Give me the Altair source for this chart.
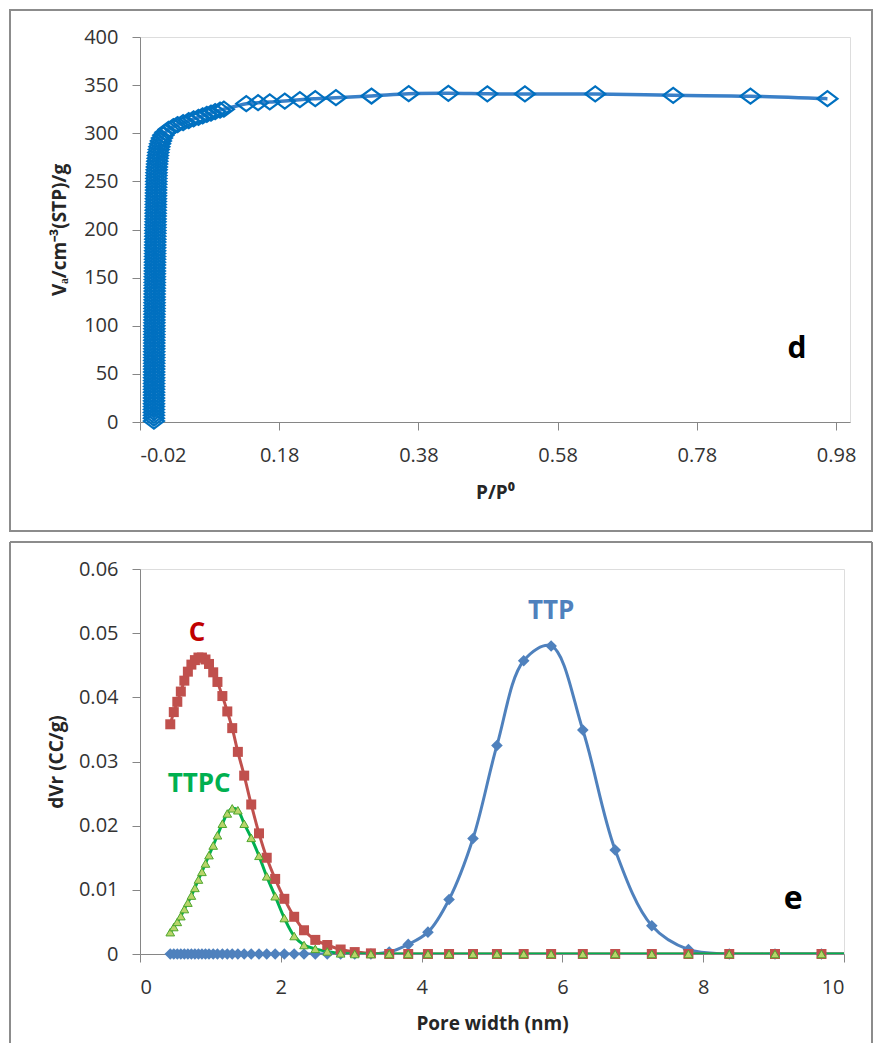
import altair as alt
import pandas as pd

# ---------------- panel d : N2 isotherm ----------------
iso_p = [
    0.00000, 0.00002, 0.00004, 0.00006, 0.00008, 0.00010, 0.00012, 0.00014, 0.00016, 0.00018,
    0.00020, 0.00022, 0.00024, 0.00026, 0.00028, 0.00030, 0.00032, 0.00034, 0.00036, 0.00038,
    0.00040, 0.00042, 0.00044, 0.00046, 0.00048, 0.00050, 0.00052, 0.00054, 0.00056, 0.00058,
    0.00060, 0.00063, 0.00066, 0.00069, 0.00072, 0.00075, 0.00078, 0.00081, 0.00084, 0.00087,
    0.00090, 0.00094, 0.00098, 0.00102, 0.00106, 0.00110, 0.00114, 0.00118, 0.00122, 0.00126,
    0.00130, 0.00135, 0.00140, 0.00145, 0.00150, 0.00155, 0.00160, 0.00165, 0.00170, 0.00175,
    0.00180, 0.00186, 0.00192, 0.00198, 0.00204, 0.00210, 0.00216, 0.00222, 0.00228, 0.00234,
    0.00240, 0.00247, 0.00254, 0.00261, 0.00268, 0.00275, 0.00282, 0.00289, 0.00296, 0.00303,
    0.00310, 0.00320, 0.00330, 0.00340, 0.00350, 0.00360, 0.00370,
    0.0039, 0.0042, 0.0045, 0.0049, 0.0053, 0.0058, 0.0063, 0.0070, 0.0078, 0.0088,
    0.0100, 0.0115, 0.0135, 0.0165, 0.0210, 0.0280, 0.0340, 0.0420, 0.0500, 0.0570,
    0.0640, 0.0700, 0.0760, 0.0820, 0.0880, 0.0950, 0.1005, 0.1327, 0.1496, 0.1664,
    0.1880, 0.2097, 0.2318, 0.2615, 0.3126, 0.3660, 0.4230, 0.4790, 0.5330, 0.6340,
    0.7460, 0.8570, 0.9676,
]
iso_v = [
    1, 4, 7, 10, 13, 16, 19, 22, 25, 28,
    31, 34, 37, 40, 43, 46, 49, 52, 55, 58,
    61, 64, 67, 70, 73, 76, 79, 82, 85, 88,
    91, 94, 97, 100, 103, 106, 109, 112, 115, 118,
    121, 124, 127, 130, 133, 136, 139, 142, 145, 148,
    151, 154, 157, 160, 163, 166, 169, 172, 175, 178,
    181, 184, 187, 190, 193, 196, 199, 202, 205, 208,
    211, 214, 217, 220, 223, 226, 229, 232, 235, 238,
    241, 244, 247, 250, 253, 256, 259,
    262, 265, 268, 271, 274, 277, 280, 283, 286, 289,
    292, 295, 298, 301, 304, 307, 309, 311, 313, 315,
    316.5, 318, 319.5, 321, 322.5, 324, 325, 330.7, 331.7, 332.5,
    333.5, 334.9, 335.9, 337, 338.7, 341.1, 341.5, 341, 340.8, 340.8,
    339.4, 338.5, 335.9,
]
p_ticks = [-0.02, 0.18, 0.38, 0.58, 0.78, 0.98]
v_ticks = [0, 50, 100, 150, 200, 250, 300, 350, 400]

# ---------------- panel e : pore size distribution ----------------
pore = [
    0.43, 0.48, 0.53, 0.58, 0.63, 0.68, 0.73, 0.78, 0.83, 0.88,
    0.93, 0.98, 1.04, 1.10, 1.17, 1.24, 1.31, 1.39, 1.48, 1.58,
    1.69, 1.80, 1.92, 2.05, 2.19, 2.33, 2.49, 2.66, 2.85, 3.05,
    3.28, 3.54, 3.81, 4.09, 4.39, 4.73, 5.07, 5.45, 5.84, 6.29,
    6.75, 7.27, 7.79, 8.37, 9.02, 9.68, 10.40,
]
c_vals = [
    0.0358, 0.0377, 0.0393, 0.0409, 0.0426, 0.0440, 0.0451, 0.0458, 0.0462, 0.0462,
    0.0459, 0.0452, 0.0439, 0.0424, 0.0402, 0.0378, 0.0352, 0.0315, 0.0278, 0.0233,
    0.0188, 0.0150, 0.0117, 0.0086, 0.0058, 0.0037, 0.0022, 0.0014, 0.0007, 0.0003,
    0.0001, 0, 0, 0, 0, 0, 0, 0, 0, 0,
    0, 0, 0, 0, 0, 0, 0,
]
ttpc_vals = [
    0.0034, 0.0042, 0.0050, 0.0059, 0.0070, 0.0080, 0.0091, 0.0103, 0.0116, 0.0128,
    0.0141, 0.0154, 0.0169, 0.0185, 0.0203, 0.0219, 0.0227, 0.0224, 0.0203, 0.0181,
    0.0153, 0.0121, 0.0090, 0.0056, 0.0028, 0.0014, 0.0008, 0.0004, 0.0001, 0,
    0, 0, 0, 0, 0, 0, 0, 0, 0, 0,
    0, 0, 0, 0, 0, 0, 0,
]
ttp_vals = [
    0, 0, 0, 0, 0, 0, 0, 0, 0, 0,
    0, 0, 0, 0, 0, 0, 0, 0, 0, 0,
    0, 0, 0, 0, 0, 0, 0, 0, 0, 0,
    0, 0.0003, 0.0015, 0.0034, 0.0085, 0.0180, 0.0325, 0.0457, 0.0480, 0.0349,
    0.0162, 0.0044, 0.0007, 0, 0, 0, 0,
]
w_ticks = [0, 2, 4, 6, 8, 10]
d_ticks = [0, 0.01, 0.02, 0.03, 0.04, 0.05, 0.06]

series_labels = ["C", "TTPC", "TTP"]
label_x = [0.81, 0.84, 5.84]
label_y = [0.0500, 0.0265, 0.0534]
label_colors = ["#C00000", "#00B050", "#4F81BD"]

FONT = "Open Sans"
LAB = dict(labelFont=FONT, labelFontSize=20, labelColor="#333333",
           titleFont=FONT, titleFontSize=19, titleFontWeight="bold", titleColor="#262626",
           grid=False, domainColor="#868686", tickColor="#868686", tickSize=8,
           titleBaseline="middle")
FRAME = "#8C8C8C"

# ---------- top chart ----------
W1, H1 = 710, 385
iso = pd.DataFrame({"p": iso_p, "v": iso_v})
xs1 = alt.Scale(domain=[-0.02, 1.0], nice=False, zero=False)
ys1 = alt.Scale(domain=[0, 400], nice=False)
xa1 = alt.Axis(values=p_ticks, labelExpr="replace(format(datum.value, '.2f'), '\u2212', '-')",
               title="P/P\u2070", labelPadding=15, titleY=70, **LAB)
ya1 = alt.Axis(values=v_ticks, title="V\u2090/cm\u207b\u00b3(STP)/g",
               labelPadding=14, titleX=-81, **LAB)

base1 = alt.Chart(iso).encode(x=alt.X("p:Q", scale=xs1, axis=xa1),
                              y=alt.Y("v:Q", scale=ys1, axis=ya1))
line1 = base1.mark_line(color="#3A80C8", strokeWidth=3.5, interpolate="catmull-rom")
pts1 = base1.mark_point(shape="M-1,0L0,-0.75L1,0L0,0.75Z", size=400, filled=False,
                        color="#0070C0", strokeWidth=2.2, opacity=1)
d_lab = alt.Chart(pd.DataFrame({"x": [0.924], "y": [76], "t": ["d"]})).mark_text(
    font=FONT, fontSize=30, fontWeight="bold", color="black"
).encode(x=alt.X("x:Q", scale=xs1, axis=xa1), y=alt.Y("y:Q", scale=ys1, axis=ya1), text="t:N")
frame1 = alt.Chart(alt.Data(values=[{}])).mark_rect(
    fill="transparent", stroke=FRAME, strokeWidth=2
).encode(x=alt.value(-130), x2=alt.value(732), y=alt.value(-27), y2=alt.value(494))

top = alt.layer(frame1, line1, pts1, d_lab).properties(width=W1, height=H1)

# ---------- bottom chart ----------
W2, H2 = 704, 385
psd = pd.DataFrame({"w": pore, "C": c_vals, "TTPC": ttpc_vals, "TTP": ttp_vals})
xs2 = alt.Scale(domain=[0, 10], nice=False)
ys2 = alt.Scale(domain=[0, 0.06], nice=False)
xa2 = alt.Axis(values=w_ticks, title="Pore width (nm)", labelPadding=15, titleY=69, **LAB)
ya2 = alt.Axis(values=d_ticks, format="~g", title="dVr (CC/g)", labelPadding=14,
               titleX=-84, **LAB)

def enc(xcol, ycol):
    return dict(x=alt.X(f"{xcol}:Q", scale=xs2, axis=xa2),
                y=alt.Y(f"{ycol}:Q", scale=ys2, axis=ya2))

b = alt.Chart(psd)
bp = b.transform_filter("datum.w <= 10")
l_ttp = b.mark_line(color="#4F81BD", strokeWidth=3, interpolate="catmull-rom", clip=True).encode(**enc("w", "TTP"))
l_c = b.mark_line(color="#C0504D", strokeWidth=3, interpolate="catmull-rom", clip=True).encode(**enc("w", "C"))
l_ttpc = b.mark_line(color="#00B050", strokeWidth=3, interpolate="catmull-rom", clip=True).encode(**enc("w", "TTPC"))
p_ttp = bp.mark_point(shape="diamond", size=135, filled=True, color="#4F81BD", opacity=1).encode(**enc("w", "TTP"))
p_c = bp.mark_point(shape="square", size=100, filled=True, color="#C0504D", opacity=1).encode(**enc("w", "C"))
p_ttpc = bp.mark_point(shape="triangle-up", size=75, fill="#B8D46A", stroke="#4EA72E", strokeWidth=1,
                       opacity=1).encode(**enc("w", "TTPC"))

lab_df = pd.DataFrame({"x": label_x, "y": label_y, "t": series_labels, "c": label_colors})
labs = alt.Chart(lab_df).mark_text(font=FONT, fontSize=26, fontWeight="bold").encode(
    **enc("x", "y"), text="t:N", color=alt.Color("c:N", scale=None))
e_lab = alt.Chart(pd.DataFrame({"x": [9.28], "y": [0.0086], "t": ["e"]})).mark_text(
    font=FONT, fontSize=32, fontWeight="bold", color="black"
).encode(**enc("x", "y"), text="t:N")

fr = alt.Chart(alt.Data(values=[{}]))
f_left = fr.mark_rule(stroke=FRAME, strokeWidth=2).encode(
    x=alt.value(-130), y=alt.value(-27), y2=alt.value(474))
f_top = fr.mark_rule(stroke=FRAME, strokeWidth=2).encode(
    x=alt.value(-130), x2=alt.value(732), y=alt.value(-27))
f_right = fr.mark_rule(stroke=FRAME, strokeWidth=2).encode(
    x=alt.value(732), y=alt.value(-27), y2=alt.value(474))

bottom = alt.layer(f_left, f_top, f_right, l_ttp, l_c, l_ttpc, p_ttp, p_c, p_ttpc, labs, e_lab
                   ).properties(width=W2, height=H2)

chart = alt.vconcat(top, bottom, spacing=7).properties(padding=0).configure_view(
    stroke="#404040", strokeWidth=1.2
).configure(background="white")

chart.save("out.html", embed_options={"renderer": "svg", "actions": False})
